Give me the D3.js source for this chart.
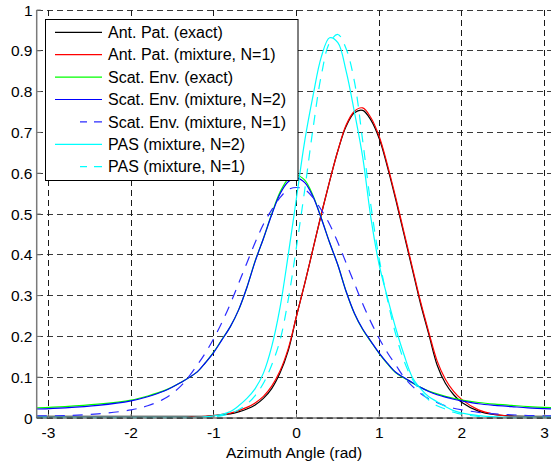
<!DOCTYPE html>
<html>
<head>
<meta charset="utf-8">
<script src="https://cdn.jsdelivr.net/npm/d3@7"></script>
<style>
  body { margin: 0; background: #fff; }
  svg { display: block; font-family: "Liberation Sans", Arial, sans-serif; }
</style>
</head>
<body>
<div id="chart"></div>
<script>
// Sample angles (rad) shared by every curve
const angles = [-3.14, -2.8, -2.4, -2.0, -1.8, -1.6, -1.4,
  -1.2, -1.1, -1.0, -0.9, -0.8, -0.7, -0.6, -0.5, -0.4, -0.3, -0.2, -0.1,
  0.0, 0.1, 0.2, 0.3, 0.4, 0.5, 0.6, 0.7, 0.8, 0.9, 1.0, 1.1, 1.2, 1.3, 1.4,
  1.5, 1.6, 1.7, 1.8, 1.9, 2.0, 2.2, 2.4, 2.6, 2.8, 3.14];

const antPatExact = [0.004, 0.004, 0.004, 0.004, 0.004, 0.004, 0.004,
  0.004, 0.004, 0.006, 0.008, 0.010, 0.015, 0.022, 0.032, 0.048, 0.072, 0.11, 0.165,
  0.25, 0.33, 0.415, 0.50, 0.58, 0.655, 0.715, 0.748, 0.754, 0.73, 0.685, 0.615, 0.535, 0.45, 0.365,
  0.28, 0.205, 0.13, 0.085, 0.057, 0.038, 0.017, 0.008, 0.005, 0.004, 0.004];

const antPatMix1 = [0.003, 0.003, 0.003, 0.003, 0.003, 0.003, 0.003,
  0.003, 0.004, 0.006, 0.009, 0.012, 0.018, 0.026, 0.037, 0.053, 0.078, 0.115, 0.17,
  0.25, 0.33, 0.415, 0.50, 0.58, 0.655, 0.718, 0.752, 0.760, 0.736, 0.69, 0.62, 0.54, 0.455, 0.37,
  0.285, 0.21, 0.14, 0.095, 0.065, 0.045, 0.02, 0.009, 0.004, 0.003, 0.003];

const scatEnvExact = [0.025, 0.028, 0.034, 0.044, 0.054, 0.067, 0.087,
  0.113, 0.136, 0.162, 0.193, 0.224, 0.265, 0.32, 0.385, 0.44, 0.50, 0.553, 0.586,
  0.595, 0.583, 0.545, 0.49, 0.43, 0.375, 0.31, 0.256, 0.217, 0.187, 0.158, 0.133, 0.111, 0.098, 0.086,
  0.075, 0.066, 0.059, 0.053, 0.048, 0.044, 0.038, 0.034, 0.031, 0.028, 0.025];

const scatEnvMix2 = [0.022, 0.025, 0.031, 0.042, 0.052, 0.066, 0.087,
  0.113, 0.136, 0.161, 0.192, 0.224, 0.265, 0.32, 0.384, 0.44, 0.498, 0.549, 0.579,
  0.588, 0.577, 0.542, 0.489, 0.43, 0.375, 0.31, 0.257, 0.218, 0.188, 0.159, 0.134, 0.112, 0.099, 0.087,
  0.075, 0.065, 0.057, 0.051, 0.046, 0.042, 0.035, 0.031, 0.028, 0.025, 0.022];

const scatEnvMix1 = [0.005, 0.006, 0.010, 0.020, 0.030, 0.047, 0.078,
  0.13, 0.16, 0.195, 0.235, 0.28, 0.33, 0.38, 0.43, 0.475, 0.51, 0.54, 0.56,
  0.565, 0.56, 0.54, 0.51, 0.475, 0.43, 0.38, 0.33, 0.28, 0.235, 0.195, 0.16, 0.13, 0.10, 0.078,
  0.06, 0.047, 0.038, 0.030, 0.024, 0.020, 0.014, 0.010, 0.008, 0.006, 0.005];

const pasMix2 = [0.002, 0.002, 0.002, 0.002, 0.002, 0.002, 0.002,
  0.002, 0.003, 0.005, 0.009, 0.016, 0.030, 0.048, 0.072, 0.11, 0.175, 0.27, 0.40,
  0.54, 0.68, 0.79, 0.885, 0.932, 0.92, 0.85, 0.75, 0.64, 0.49, 0.375, 0.295, 0.22, 0.155, 0.10,
  0.072, 0.052, 0.040, 0.028, 0.018, 0.012, 0.006, 0.003, 0.002, 0.002, 0.002];

const pasMix1 = [0.001, 0.001, 0.001, 0.001, 0.001, 0.001, 0.001,
  0.001, 0.002, 0.003, 0.006, 0.011, 0.020, 0.034, 0.055, 0.085, 0.13, 0.19, 0.29,
  0.42, 0.56, 0.71, 0.84, 0.92, 0.94, 0.905, 0.825, 0.68, 0.52, 0.39, 0.29, 0.205, 0.14, 0.095,
  0.066, 0.044, 0.030, 0.022, 0.014, 0.009, 0.004, 0.002, 0.001, 0.001, 0.001];

const xTicks = [-3, -2, -1, 0, 1, 2, 3];
const yTicks = [0, 0.1, 0.2, 0.3, 0.4, 0.5, 0.6, 0.7, 0.8, 0.9, 1];

const seriesNames = ['Ant. Pat. (exact)', 'Ant. Pat. (mixture, N=1)', 'Scat. Env. (exact)',
  'Scat. Env. (mixture, N=2)', 'Scat. Env. (mixture, N=1)', 'PAS (mixture, N=2)', 'PAS (mixture, N=1)'];
const seriesValues = [antPatExact, antPatMix1, scatEnvExact, scatEnvMix2, scatEnvMix1, pasMix2, pasMix1];
const seriesColors = ['#000000', '#ff0000', '#00ff00', '#0000ff', '#2b2bff', '#00ffff', '#00ffff'];
const seriesDashed = [false, false, false, false, true, false, true];

const width = 551, height = 463;
// plot box (right side runs past the picture edge, as in the original)
const plotLeft = 36.7, plotTop = 10, plotBottom = 418;
const pxPerRad = 82.7;

const svg = d3.select('#chart').append('svg')
  .attr('width', width)
  .attr('height', height);

const x = d3.scaleLinear()
  .domain([-Math.PI, Math.PI])
  .range([plotLeft, plotLeft + 2 * Math.PI * pxPerRad]);
const y = d3.scaleLinear().domain([0, 1]).range([plotBottom, plotTop]);

// grid
const grid = svg.append('g').attr('class', 'grid');
grid.selectAll('.hgrid').data(yTicks).enter().append('line')
  .attr('x1', plotLeft).attr('x2', width + 10)
  .attr('y1', d => y(d)).attr('y2', d => y(d))
  .style('stroke', '#3a3a3a').style('stroke-width', 1)
  .style('stroke-dasharray', '6,4').style('shape-rendering', 'crispEdges');
grid.selectAll('.vgrid').data(xTicks).enter().append('line')
  .attr('x1', d => x(d)).attr('x2', d => x(d))
  .attr('y1', plotTop).attr('y2', plotBottom)
  .style('stroke', '#1a1a1a').style('stroke-width', 1)
  .style('stroke-dasharray', '6,4').style('shape-rendering', 'crispEdges');

// curves
const line = d3.line()
  .x((d, i) => x(angles[i]))
  .y(d => y(d))
  .curve(d3.curveCatmullRom.alpha(0.5));

svg.append('g').attr('class', 'curves')
  .selectAll('path').data(seriesValues).enter().append('path')
  .attr('d', d => line(d))
  .style('fill', 'none')
  .style('stroke', (d, i) => seriesColors[i])
  .style('stroke-width', 1.2)
  .style('stroke-dasharray', (d, i) => seriesDashed[i] ? '10,8' : null);

// axes lines
const axisColor = '#7a7a7a';
svg.append('line')
  .attr('x1', plotLeft).attr('x2', plotLeft).attr('y1', plotTop).attr('y2', plotBottom)
  .style('stroke', axisColor).style('stroke-width', 1.5);
svg.append('line')
  .attr('x1', plotLeft).attr('x2', width).attr('y1', plotBottom).attr('y2', plotBottom)
  .style('stroke', axisColor).style('stroke-width', 1.5);
svg.append('line')
  .attr('x1', plotLeft).attr('x2', width).attr('y1', plotBottom).attr('y2', plotBottom)
  .style('stroke', '#222').style('stroke-width', 1)
  .style('stroke-dasharray', '6,4');

// ticks
svg.selectAll('.ytick').data(yTicks).enter().append('line')
  .attr('x1', plotLeft).attr('x2', plotLeft + 4)
  .attr('y1', d => y(d)).attr('y2', d => y(d))
  .style('stroke', axisColor).style('stroke-width', 1);
svg.selectAll('.xtick').data(xTicks).enter().append('line')
  .attr('x1', d => x(d)).attr('x2', d => x(d))
  .attr('y1', plotBottom).attr('y2', plotBottom - 4)
  .style('stroke', axisColor).style('stroke-width', 1);

// tick labels
svg.selectAll('.ylab').data(yTicks).enter().append('text')
  .attr('x', 32.5).attr('y', d => y(d) + 5.5)
  .attr('text-anchor', 'end')
  .style('font-size', '15.5px').style('fill', '#000')
  .text(d => d3.format('~g')(d));
svg.selectAll('.xlab').data(xTicks).enter().append('text')
  .attr('x', d => x(d)).attr('y', 437.5)
  .attr('text-anchor', 'middle')
  .style('font-size', '15.5px').style('fill', '#000')
  .text(d => d < 0 ? '-' + Math.abs(d) : d);

svg.append('text')
  .attr('x', 294).attr('y', 457.5)
  .attr('text-anchor', 'middle')
  .style('font-size', '15.5px')
  .text('Azimuth Angle (rad)');

// legend
const legend = svg.append('g').attr('class', 'legend');
legend.append('rect')
  .attr('x', 45.5).attr('y', 19.5).attr('width', 252.5).attr('height', 161)
  .style('fill', '#fff').style('stroke', '#000').style('stroke-width', 1);

const rowY = d3.scaleLinear().domain([0, 6]).range([32.3, 166.7]);
const rows = legend.selectAll('.row').data(seriesNames).enter().append('g')
  .attr('transform', (d, i) => `translate(0,${rowY(i)})`);
rows.append('line')
  .attr('x1', 55).attr('x2', 102).attr('y1', 0).attr('y2', 0)
  .style('stroke', (d, i) => seriesColors[i])
  .style('stroke-width', 1.2)
  .style('stroke-dasharray', (d, i) => seriesDashed[i] ? '0,25,7,7,8,10' : null);
rows.append('text')
  .attr('x', 108).attr('y', 5.6)
  .style('font-size', '16px')
  .text(d => d);
</script>
</body>
</html>
